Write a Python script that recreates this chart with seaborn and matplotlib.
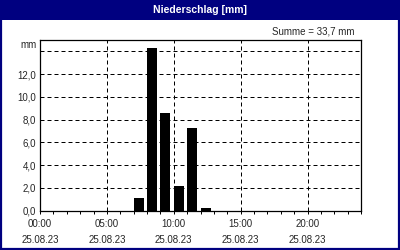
import matplotlib
matplotlib.use("Agg")
import matplotlib.pyplot as plt
from matplotlib.patches import Rectangle
import seaborn as sns
import pandas as pd

# data
hours = [7, 8, 9, 10, 11, 12]
precip = [1.1, 14.3, 8.6, 2.2, 7.3, 0.2]
all_hours = list(range(24))
x_major_labels = ["00:00\n25.08.23", "05:00\n25.08.23", "10:00\n25.08.23",
                  "15:00\n25.08.23", "20:00\n25.08.23"]
y_ticks = [0, 2, 4, 6, 8, 10, 12, 14]
y_labels = ["0,0", "2,0", "4,0", "6,0", "8,0", "10,0", "12,0", ""]
title = "Niederschlag [mm]"
summary = "Summe = 33,7 mm"
unit = "mm"

sns.set_style("white")
plt.rcParams['font.family'] = ['Liberation Sans', 'DejaVu Sans']

navy = "#000080"
fig = plt.figure(figsize=(4, 2.5), dpi=100)
fig.patch.set_facecolor("white")

ax = fig.add_axes([0.1, 0.157, 0.8025, 0.683])
df = pd.DataFrame({"hour": hours, "precip": precip})
sns.barplot(data=df, x="hour", y="precip", order=all_hours, color="black",
            saturation=1, width=0.75, linewidth=0, ax=ax)

off = -0.375
ax.set_xlim(off, off + 24)
ax.set_ylim(0, 15)
ax.set_xticks([off + h for h in range(0, 24, 5)])
ax.set_xticklabels(x_major_labels, fontsize=7, linespacing=1.75)
ax.set_xticks([off + h for h in range(25)], minor=True)
ax.set_yticks(y_ticks)
ax.set_yticklabels(y_labels, fontsize=7)
ax.set_xlabel("")
ax.set_ylabel("")

ax.tick_params(axis="x", which="both", direction="out", length=2.2, width=0.72,
               color="black", bottom=True, pad=3.5)
ax.tick_params(axis="y", which="both", length=0, pad=3)
ax.set_facecolor("white")
for s in ax.spines.values():
    s.set_color("black")
    s.set_linewidth(0.9)

ax.grid(True, which="major", color="black", linestyle=(0, (4, 3)), linewidth=0.72)
ax.set_axisbelow(False)

ax.text(-0.01, 0.97, unit, transform=ax.transAxes, ha="right", va="center", fontsize=7)
fig.text(0.885, 0.876, summary, ha="right", va="center", fontsize=7)

# title bar and frame
fig.patches.append(Rectangle((0, 0.92), 1, 0.08, transform=fig.transFigure,
                             facecolor=navy, edgecolor="none", zorder=0))
fig.patches.append(Rectangle((0.002, 0.003), 0.996, 0.994, transform=fig.transFigure,
                             facecolor="none", edgecolor=navy, linewidth=1.6, zorder=5))
fig.text(0.5, 0.96, title, ha="center", va="center", fontsize=7.5,
         fontweight="bold", color="white")

fig.savefig("out.png", dpi=100)
